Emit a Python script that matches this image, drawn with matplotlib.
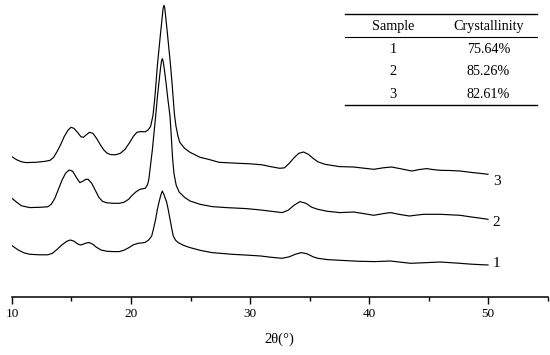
import numpy as np
import matplotlib.pyplot as plt

plt.rcParams['font.family'] = ['Liberation Serif', 'DejaVu Serif']

# XRD patterns (2theta in degrees, intensity in arbitrary units, stacked offsets included)
x3 = [10.0, 10.4, 10.8, 11.2, 12.0, 12.8, 13.2, 13.5, 13.8, 14.1, 14.4, 14.7, 14.95, 15.2, 15.5,
      15.8, 16.0, 16.2, 16.5, 16.8, 17.1, 17.4, 17.7, 18.0, 18.3, 18.7, 19.1, 19.5, 19.9, 20.2,
      20.5, 20.8, 21.2, 21.45, 21.65, 21.85, 21.99, 22.1, 22.21, 22.35, 22.49, 22.56, 22.63, 22.7, 22.77,
      22.84, 22.91, 22.98, 23.05, 23.19, 23.33, 23.45, 23.55, 23.65, 23.78, 23.95, 24.1, 24.5, 24.96, 25.8,
      26.5, 27.4, 29.0, 30.0, 31.0, 31.8, 32.5, 32.9, 33.3, 33.7, 34.1, 34.5, 34.9, 35.3, 35.7,
      36.3, 37.5, 38.7, 39.5, 40.4, 41.2, 41.9, 42.8, 43.6, 44.2, 44.85, 45.4, 46.0, 46.8, 47.65,
      48.5, 49.3, 50.0]
y3 = [140.5, 137.5, 135.5, 134.7, 135, 136, 137, 140, 146, 153, 161, 167, 170, 169, 165,
      160.5, 160, 162, 165, 164, 159, 153, 147.5, 144, 142.7, 142.5, 144, 148, 155, 161,
      165, 165.7, 165.5, 167.5, 171, 182, 198, 214, 231, 248, 265, 273, 281, 289, 292,
      289, 281, 273, 265, 248, 231, 214, 198, 183, 171, 161, 155, 149, 145, 140,
      138, 135, 134, 133.5, 132.5, 130.5, 129, 129.5, 134, 139.5, 144, 145.3, 143, 139, 135.5,
      133, 130.7, 130.3, 129.2, 128, 129.5, 130.3, 128.2, 126.3, 127.7, 128.7, 127.7, 127, 126.8, 126.3,
      125, 124, 123]

x2 = [10.0, 10.4, 10.8, 11.5, 12.3, 13.0, 13.3, 13.6, 13.9, 14.2, 14.5, 14.8, 15.1, 15.4, 15.7,
      15.95, 16.2, 16.4, 16.7, 17.0, 17.3, 17.6, 17.96, 18.5, 19.0, 19.4, 19.8, 20.1, 20.4, 20.75,
      21.2, 21.4, 21.5, 21.6, 21.8, 22.07, 22.2, 22.35, 22.49, 22.56, 22.63, 22.7, 22.78, 22.94, 23.1,
      23.28, 23.4, 23.5, 23.62, 23.8, 24.06, 24.5, 24.96, 25.8, 26.8, 28.0, 29.7, 30.9, 31.8, 32.7,
      33.2, 33.7, 34.2, 34.7, 35.2, 35.7, 36.5, 37.56, 38.7, 39.5, 40.4, 41.1, 41.8, 42.6, 43.4,
      44.0, 44.6, 46.0, 47.65, 48.5, 49.3, 50.0]
y2 = [99, 95, 91.5, 89.7, 90, 90.5, 93, 99, 108, 117, 124, 127.3, 126, 120, 114.7,
      116, 118, 118, 114, 107, 100, 96, 94.5, 94, 94, 95, 98, 102, 105.3, 108,
      109, 113, 118, 128, 148, 181, 198, 215, 230, 236, 238.7, 236, 230, 215, 198,
      181, 158, 138, 123, 112, 105, 100, 96.3, 93, 90.7, 89.7, 88.7, 87.3, 86, 84.7,
      87, 92, 95.7, 94, 90, 88, 86, 84.7, 85.3, 83.8, 82, 83.5, 84.7, 82.8, 81.3,
      82.2, 83, 83, 82, 80.5, 79.2, 78]

x1 = [10.0, 10.5, 11.0, 11.5, 12.3, 13.0, 13.4, 13.8, 14.2, 14.6, 14.9, 15.2, 15.5, 15.75, 16.0,
      16.3, 16.5, 16.8, 17.1, 17.5, 18.0, 18.5, 19.0, 19.4, 19.8, 20.2, 20.6, 21.0, 21.2, 21.45,
      21.6, 21.74, 21.9, 22.07, 22.2, 22.35, 22.5, 22.63, 22.76, 22.88, 23.0, 23.14, 23.28, 23.42, 23.55,
      23.75, 23.97, 24.4, 24.96, 25.8, 26.8, 28.5, 30.0, 30.9, 31.8, 32.7, 33.3, 33.8, 34.3, 34.8,
      35.3, 35.7, 36.5, 37.56, 39.2, 40.5, 41.8, 42.6, 43.5, 44.5, 46.0, 47.65, 48.5, 49.3, 50.0]
y1 = [51.7, 47.5, 44.5, 43, 42.5, 42.5, 44, 48, 52.5, 56, 57.3, 56.2, 53.5, 52.3, 53.2,
      54.5, 54.7, 53, 50, 47.2, 46, 45.7, 45.7, 47, 49.5, 52.5, 54, 54.5, 55, 57,
      59, 61.3, 69, 78, 87, 95, 102, 106.3, 103, 99, 95, 87, 78, 69, 61.3,
      57, 54.7, 52, 49.7, 47, 44.7, 43, 42, 41.3, 40, 39, 40.5, 43, 44.7, 43.5,
      40.5, 39, 37.7, 37, 36, 35.7, 36.3, 35.2, 34, 34.5, 35.3, 34, 33.2, 32.7, 32.3]

sample_names = ['1', '2', '3']
crystallinity = ['75.64%', '85.26%', '82.61%']
label_shift = [1.5, -3, -7]

fig = plt.figure(figsize=(5.5, 3.55), dpi=100)
ax = fig.add_axes([12 / 550, 57.7 / 355, 535.5 / 550, 297.3 / 355])

for xs, ys in [(x1, y1), (x2, y2), (x3, y3)]:
    ax.plot(xs, ys, color='black', lw=0.85, solid_joinstyle='round')

# sample labels at the right end of each curve
for name, ys, dy in zip(sample_names, [y1, y2, y3], label_shift):
    ax.text(50.4, ys[-1] + dy, name, fontsize=11, ha='left', va='center')

ax.set_xlim(10, 55)
ax.set_ylim(0, 297.3)
ax.set_xticks([10, 20, 30, 40, 50])
ax.set_xticks([15, 25, 35, 45, 55], minor=True)
ax.tick_params(axis='x', which='major', length=5, width=1, direction='out', labelsize=9.5, pad=3)
ax.tick_params(axis='x', which='minor', length=3, width=1, direction='out')
ax.set_yticks([])
for s in ['left', 'right', 'top']:
    ax.spines[s].set_visible(False)
ax.spines['bottom'].set_linewidth(1.1)
ax.set_xlabel('2θ(°)', fontsize=10.5, labelpad=9)

# crystallinity table (three-line table)
x0, x1t = 345 / 550, 537 / 550
for ypix, lw in [(14.3, 1.0), (36.7, 0.8), (105, 1.0)]:
    yf = 1 - ypix / 355
    fig.add_artist(plt.Line2D([x0, x1t], [yf, yf], color='black', lw=lw))
col1, col2 = 393 / 550, 488.5 / 550
fig.text(col1, 1 - 26.7 / 355, 'Sample', ha='center', va='center', fontsize=10.2)
fig.text(col2, 1 - 26.7 / 355, 'Crystallinity', ha='center', va='center', fontsize=10.2)
for i, (n, c) in enumerate(zip(sample_names, crystallinity)):
    yf = 1 - (49.3 + 22.5 * i) / 355
    fig.text(col1, yf, n, ha='center', va='center', fontsize=10.2)
    fig.text(col2, yf, c, ha='center', va='center', fontsize=10.2)

fig.savefig('out.png', dpi=100)
